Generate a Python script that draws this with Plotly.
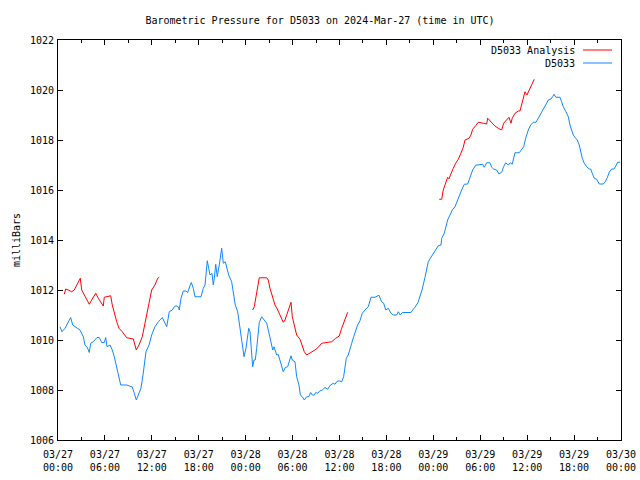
import plotly.graph_objects as go
import pandas as pd

# ---- data (hours after 2024-03-27 00:00 UTC, pressure in mb) ----
obs_hours = [0.26, 0.51, 0.90, 1.15, 1.62, 1.88, 2.26, 2.81, 3.24, 3.45, 3.75, 4.00, 4.18, 4.51, 4.99,
             5.28, 5.59, 5.92, 6.10, 6.27, 6.65, 6.94, 7.20, 7.42, 7.71, 8.02, 8.79, 9.50, 9.76, 10.01,
             10.27, 10.61, 10.87, 11.04, 11.25, 11.64, 11.98, 12.40, 12.83, 13.34, 13.90, 14.23, 14.62,
             14.87, 15.09, 15.38, 15.51, 15.73, 16.02, 16.37, 16.59, 16.88, 17.05, 17.30, 17.52, 18.29,
             18.58, 18.80, 18.93, 19.09, 19.27, 19.44, 19.69, 19.86, 19.99, 20.17, 20.37, 20.55, 20.72,
             20.93, 21.14, 21.39, 21.57, 21.83, 22.21, 22.42, 22.67, 22.98, 23.18, 23.36, 23.57, 23.79,
             24.04, 24.21, 24.39, 24.55, 24.72, 24.90, 25.06, 25.23, 25.41, 25.58, 25.74, 26.05, 26.38,
             26.69, 26.94, 27.20, 27.46, 27.62, 27.79, 27.97, 28.17, 28.39, 28.61, 28.81, 29.07, 29.37,
             29.63, 29.80, 29.96, 30.31, 30.52, 30.82, 30.99, 31.24, 31.50, 31.80, 32.06, 32.31, 32.52,
             32.78, 32.95, 33.21, 33.47, 33.80, 34.14, 34.49, 34.82, 35.20, 35.42, 35.64, 35.93, 36.28,
             36.53, 36.70, 36.87, 37.12, 37.34, 37.56, 37.81, 38.07, 38.32, 38.62, 38.91, 39.26, 39.68,
             40.03, 40.54, 41.05, 41.39, 41.65, 41.91, 42.24, 42.58, 42.88, 43.31, 43.52, 43.77, 44.03,
             44.59, 45.14, 45.43, 45.65, 46.04, 46.55, 46.93, 47.15, 47.35, 47.70, 47.99, 48.43, 48.63,
             48.98, 49.07, 49.40, 49.58, 49.83, 50.13, 50.42, 50.77, 50.98, 51.28, 51.62, 51.96, 52.39,
             52.69, 53.03, 53.41, 53.96, 54.31, 54.51, 54.82, 55.24, 55.46, 55.75, 56.10, 56.39, 56.74,
             56.99, 57.25, 57.58, 57.84, 58.09, 58.44, 58.99, 59.30, 59.55, 59.81, 60.14, 60.45, 60.78,
             61.13, 61.42, 61.73, 61.98, 62.24, 62.49, 62.70, 63.04, 63.26, 63.43, 63.68, 64.19, 64.41,
             64.62, 64.96, 65.26, 65.47, 65.69, 65.90, 66.15, 66.41, 66.66, 66.84, 67.05, 67.30, 67.61,
             67.94, 68.12, 68.32, 68.58, 68.89, 69.22, 69.73, 69.99, 70.24, 70.50, 70.81, 71.10, 71.36,
             71.57, 71.87]
obs_mb = [1010.53, 1010.33, 1010.47, 1010.60, 1010.90, 1010.60, 1010.53, 1010.40, 1010.13, 1009.80,
          1009.70, 1009.50, 1009.87, 1009.93, 1010.10, 1010.10, 1009.90, 1009.90, 1010.10, 1009.73,
          1009.80, 1009.60, 1009.33, 1009.00, 1008.60, 1008.20, 1008.20, 1008.12, 1007.87, 1007.60,
          1007.80, 1008.07, 1008.60, 1009.13, 1009.53, 1009.80, 1010.20, 1010.53, 1010.73, 1010.90,
          1010.53, 1011.13, 1011.20, 1011.33, 1011.37, 1011.33, 1011.20, 1011.67, 1011.96, 1011.96,
          1011.90, 1012.17, 1012.30, 1012.07, 1011.73, 1011.73, 1012.07, 1012.20, 1012.60, 1013.17,
          1012.87, 1012.60, 1012.67, 1012.20, 1012.47, 1013.03, 1012.53, 1012.80, 1013.20, 1013.67,
          1013.07, 1013.13, 1012.87, 1012.60, 1012.33, 1011.80, 1011.40, 1011.13, 1010.67, 1010.20,
          1009.67, 1009.33, 1009.67, 1010.13, 1010.47, 1010.33, 1009.67, 1008.93, 1009.20, 1009.20,
          1009.67, 1010.33, 1010.70, 1010.93, 1010.80, 1010.67, 1010.33, 1009.93, 1009.60, 1009.73,
          1009.53, 1009.40, 1009.42, 1009.20, 1009.00, 1008.73, 1008.90, 1008.93, 1009.20, 1009.37,
          1009.20, 1009.13, 1008.53, 1008.20, 1007.80, 1007.73, 1007.60, 1007.73, 1007.73, 1007.90,
          1007.80, 1007.80, 1007.90, 1007.87, 1007.96, 1008.00, 1008.10, 1008.03, 1008.19, 1008.27,
          1008.23, 1008.33, 1008.37, 1008.33, 1008.53, 1008.93, 1009.27, 1009.40, 1009.60, 1009.87,
          1010.13, 1010.40, 1010.60, 1010.77, 1011.07, 1011.20, 1011.33, 1011.71, 1011.71, 1011.79,
          1011.53, 1011.47, 1011.20, 1011.27, 1011.07, 1011.00, 1011.00, 1011.13, 1011.00, 1011.10,
          1011.10, 1011.10, 1011.23, 1011.31, 1011.50, 1012.00, 1012.50, 1012.83, 1013.13, 1013.31,
          1013.44, 1013.67, 1013.77, 1013.80, 1014.07, 1014.27, 1014.53, 1014.80, 1015.00, 1015.20,
          1015.33, 1015.53, 1015.73, 1016.00, 1016.23, 1016.24, 1016.53, 1016.80, 1016.99, 1017.03,
          1017.03, 1016.91, 1017.09, 1017.09, 1016.91, 1016.83, 1016.80, 1016.64, 1016.71, 1016.93,
          1017.09, 1017.00, 1017.09, 1017.03, 1017.49, 1017.49, 1017.63, 1017.73, 1018.07, 1018.40,
          1018.60, 1018.71, 1018.71, 1018.87, 1019.03, 1019.13, 1019.29, 1019.47, 1019.60, 1019.64,
          1019.73, 1019.83, 1019.71, 1019.71, 1019.53, 1019.33, 1019.13, 1018.93, 1018.60, 1018.40,
          1018.20, 1018.09, 1018.00, 1017.80, 1017.53, 1017.27, 1017.07, 1016.93, 1016.84, 1016.84,
          1016.67, 1016.47, 1016.43, 1016.24, 1016.24, 1016.33, 1016.49, 1016.71, 1016.84, 1016.84,
          1016.97, 1017.11, 1017.11]

ana1_hours = [0.81, 0.98, 1.32, 1.75, 2.08, 2.39, 2.69, 2.85, 3.03, 3.45, 3.80, 4.00, 4.31, 4.82, 5.15,
              5.50, 5.79, 5.92, 6.23, 6.74, 6.94, 7.20, 7.51, 7.80, 8.22, 8.79, 9.63, 10.01, 10.36, 10.78,
              11.04, 11.34, 11.64, 11.98, 12.40, 12.75, 12.95]
ana1_mb = [1011.83, 1012.04, 1012.00, 1011.93, 1012.00, 1012.20, 1012.40, 1012.47, 1012.00, 1011.73,
           1011.53, 1011.43, 1011.60, 1011.87, 1011.67, 1011.47, 1011.36, 1011.71, 1011.73, 1011.77,
           1011.40, 1011.07, 1010.73, 1010.47, 1010.33, 1010.09, 1010.04, 1009.60, 1009.80, 1010.13,
           1010.53, 1011.00, 1011.47, 1012.00, 1012.20, 1012.47, 1012.51]
ana2_hours = [24.90, 25.10, 25.32, 25.58, 25.74, 26.69, 26.89, 27.11, 27.46, 27.75, 28.04, 28.39, 28.81,
              29.03, 29.35, 29.80, 29.96, 30.22, 30.52, 30.95, 31.24, 31.50, 31.80, 32.23, 32.86, 33.29,
              33.72, 34.14, 35.00, 35.51, 35.97, 36.28, 36.61, 37.05]
ana2_mb = [1011.20, 1011.33, 1011.73, 1012.13, 1012.49, 1012.49, 1012.40, 1012.07, 1011.67, 1011.40,
           1011.24, 1011.00, 1010.71, 1010.80, 1011.10, 1011.51, 1010.93, 1010.53, 1010.20, 1010.03,
           1009.80, 1009.53, 1009.40, 1009.47, 1009.60, 1009.71, 1009.87, 1009.89, 1009.93, 1010.07,
           1010.16, 1010.47, 1010.73, 1011.11]
ana3_hours = [48.76, 49.07, 49.27, 49.49, 49.83, 50.00, 50.26, 50.55, 50.86, 51.19, 51.53, 51.83, 52.05,
              52.56, 52.81, 53.03, 53.41, 53.75, 54.39, 54.82, 54.95, 55.37, 55.88, 56.30, 56.74, 56.99,
              57.38, 57.67, 57.93, 58.09, 58.44, 58.86, 59.08, 59.37, 59.72, 59.97, 60.36, 60.65, 60.91]
ana3_mb = [1015.63, 1015.63, 1016.00, 1016.24, 1016.51, 1016.45, 1016.67, 1016.87, 1017.07, 1017.23,
           1017.47, 1017.71, 1018.00, 1018.07, 1018.20, 1018.43, 1018.57, 1018.71, 1018.67, 1018.64,
           1018.87, 1018.73, 1018.56, 1018.47, 1018.40, 1018.67, 1018.80, 1018.91, 1018.67, 1018.87,
           1019.07, 1019.16, 1019.16, 1019.57, 1019.93, 1019.80, 1020.07, 1020.29, 1020.43]

tick_hours = [0, 6, 12, 18, 24, 30, 36, 42, 48, 54, 60, 66, 72]
tick_labels = ["03/27<br>00:00", "03/27<br>06:00", "03/27<br>12:00", "03/27<br>18:00",
               "03/28<br>00:00", "03/28<br>06:00", "03/28<br>12:00", "03/28<br>18:00",
               "03/29<br>00:00", "03/29<br>06:00", "03/29<br>12:00", "03/29<br>18:00",
               "03/30<br>00:00"]
y_ticks = [1006, 1008, 1010, 1012, 1014, 1016, 1018, 1020, 1022]

start = pd.Timestamp("2024-03-27 00:00")


def to_time(hours):
    return [start + pd.Timedelta(hours=h) for h in hours]


ana_x = to_time(ana1_hours) + [None] + to_time(ana2_hours) + [None] + to_time(ana3_hours)
ana_y = ana1_mb + [None] + ana2_mb + [None] + ana3_mb

RED = "#ff0000"
BLUE = "#0f88ff"
FONT = "DejaVu Sans Mono"

W, H = 640, 480

fig = go.Figure()
fig.add_trace(go.Scatter(x=ana_x, y=ana_y, mode="lines", name="D5033 Analysis",
                         line=dict(color=RED, width=1), connectgaps=False))
fig.add_trace(go.Scatter(x=to_time(obs_hours), y=obs_mb, mode="lines", name="D5033",
                         line=dict(color=BLUE, width=1)))

fig.update_layout(
    width=W, height=H,
    margin=dict(l=58, r=19, t=40, b=40, autoexpand=False),
    paper_bgcolor="white", plot_bgcolor="white",
    showlegend=False,
    font=dict(family=FONT, size=10, color="black"),
    title=dict(text="Barometric Pressure for D5033 on 2024-Mar-27 (time in UTC)",
               x=0.5, xanchor="center", y=1 - 20 / H, yanchor="middle",
               font=dict(family=FONT, size=10, color="black")),
)
fig.update_xaxes(
    automargin=False,
    range=[start, start + pd.Timedelta(hours=72)],
    tickmode="array", tickvals=to_time(tick_hours), ticktext=tick_labels,
    ticks="inside", ticklen=5, tickcolor="black", tickwidth=1, ticklabelstandoff=5,
    minor=dict(dtick=3 * 3600 * 1000, ticks="inside", ticklen=3, tickcolor="black", showgrid=False),
    showline=True, linecolor="black", linewidth=1, mirror="allticks",
    showgrid=False, zeroline=False, tickangle=0,
    tickfont=dict(family=FONT, size=10, color="black"),
)
fig.update_yaxes(
    automargin=False,
    range=[1006, 1022], tickmode="array", tickvals=y_ticks,
    ticks="inside", ticklen=5, tickcolor="black", tickwidth=1, ticklabelstandoff=1,
    showline=True, linecolor="black", linewidth=1, mirror="allticks",
    showgrid=False, zeroline=False,
    tickfont=dict(family=FONT, size=10, color="black"),
    title=dict(text="milliBars", font=dict(family=FONT, size=10, color="black"), standoff=7),
)

# gnuplot-style legend (text left of sample line), top right inside plot
legend_items = [("D5033 Analysis", RED, 0.975), ("D5033", BLUE, 0.9425)]
for label, color, yy in legend_items:
    fig.add_annotation(x=0.921, y=yy, xref="paper", yref="paper", text=label, showarrow=False,
                       xanchor="right", yanchor="middle", font=dict(family=FONT, size=10, color="black"))
    fig.add_shape(type="line", xref="paper", yref="paper", x0=0.9325, x1=0.984, y0=yy, y1=yy,
                  line=dict(color=color, width=1))

# remove the browser's default 8px page margin so the 640x480 figure fills the window
fig.write_html("out.html",
               config={"displayModeBar": False},
               post_script="document.body.style.margin='0';document.body.style.overflow='hidden';")
